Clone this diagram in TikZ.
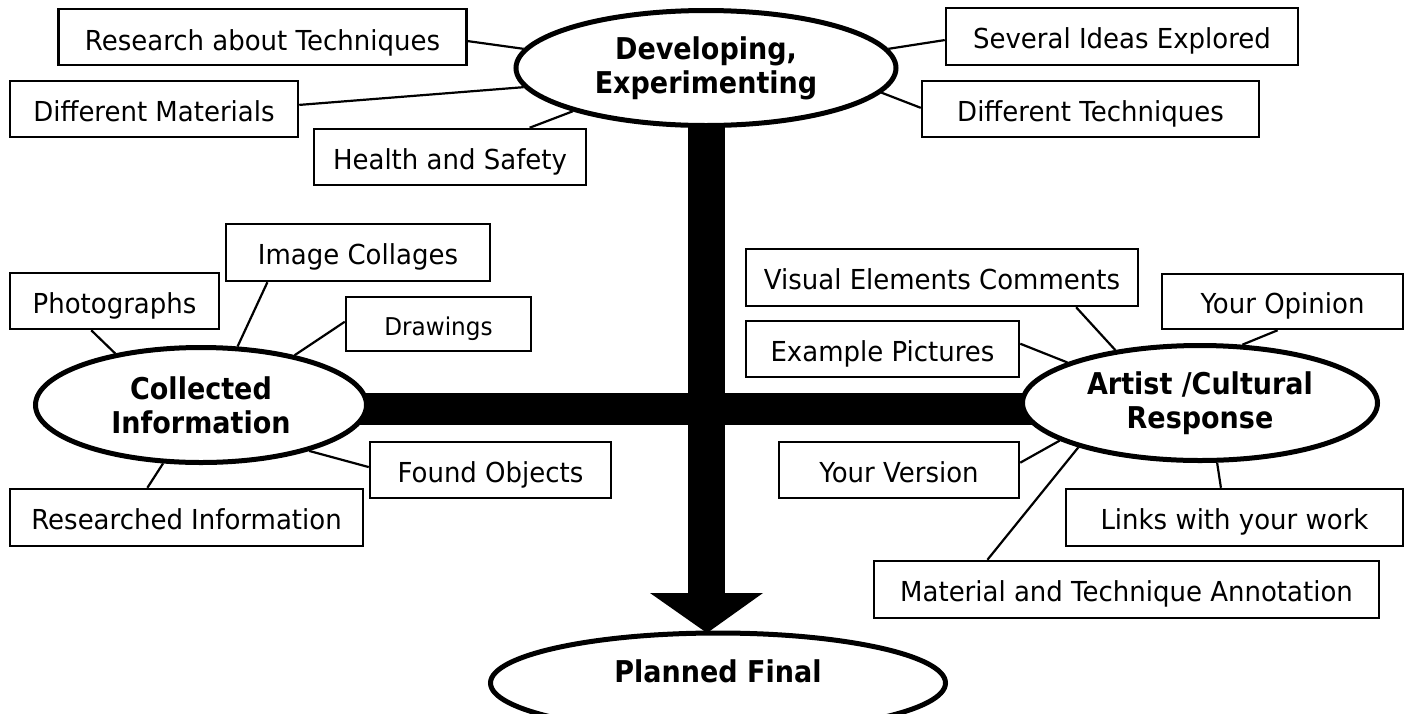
\documentclass[tikz,border=0pt]{standalone}
\usepackage{fontspec}
\setmainfont{DejaVu Sans}[FakeStretch=0.945]
\newfontfamily\ovalfont{DejaVu Sans}[FakeStretch=0.9]
\usetikzlibrary{shapes.geometric,calc}
\begin{document}
\begin{tikzpicture}[x=1pt,y=-1pt,
  box/.style={draw, line width=2.5pt, rectangle, inner sep=0pt, fill=white,
    font=\fontsize{27.5}{32}\selectfont, text height=24.5pt, text depth=0pt},
  oval/.style={draw, line width=5pt, ellipse, inner sep=0pt, fill=white,
    align=center, font=\ovalfont\fontsize{30}{34}\selectfont\bfseries},
  link/.style={line width=2.2pt}]
\useasboundingbox (0,0) rectangle (1411,713);
\clip (0,0) rectangle (1411,713);
\fill[white] (0,0) rectangle (1411,713);
% thick cross and arrow
\fill[black] (688,100) rectangle (725,593);
\fill[black] (300,393) rectangle (1100,425);
\coordinate (ahl) at (650,593);
\coordinate (ahr) at (763,593);
\coordinate (tip) at (707,633);
\fill[black] (ahl) -- (ahr) -- (tip) -- cycle;
% ellipses
\node[oval, minimum width=380pt, minimum height=115pt] (dev) at (706,68) {Developing,\\Experimenting};
\node[oval, minimum width=331pt, minimum height=115pt] (ci) at (201,405) {Collected\\Information};
\node[oval, minimum width=355pt, minimum height=115pt] (acr) at (1200,403) {Artist /Cultural\\Response};
\node[oval, minimum width=455pt, minimum height=100pt, text height=21pt, text depth=23pt] (pf) at (718,683) {Planned Final};
% boxes
\node[box, minimum width=408pt, minimum height=56pt, text height=27.5pt] (rat) at (262.5,37) {Research about Techniques};
\node[box, minimum width=288pt, minimum height=56pt] (dm) at (154,109) {Different Materials};
\node[box, minimum width=272pt, minimum height=56pt] (hs) at (450,157) {Health and Safety};
\node[box, minimum width=352pt, minimum height=57pt] (sie) at (1122,36.5) {Several Ideas Explored};
\node[box, minimum width=337pt, minimum height=56pt] (dt) at (1090.5,109) {Different Techniques};
\node[box, minimum width=264pt, minimum height=57pt] (ic) at (358,252.5) {Image Collages};
\node[box, minimum width=209pt, minimum height=56pt] (ph) at (114.5,301) {Photographs};
\node[box, minimum width=185pt, minimum height=54pt, font=\fontsize{24.5}{29}\selectfont, text height=22pt] (dr) at (438.5,324) {Drawings};
\node[box, minimum width=241pt, minimum height=56pt] (fo) at (490.5,470) {Found Objects};
\node[box, minimum width=353pt, minimum height=57pt] (ri) at (186.5,517.5) {Researched Information};
\node[box, minimum width=392pt, minimum height=57pt] (vec) at (942,277.5) {Visual Elements Comments};
\node[box, minimum width=241pt, minimum height=55pt] (yo) at (1282.5,301.5) {Your Opinion};
\node[box, minimum width=273pt, minimum height=56pt] (ep) at (882.5,349) {Example Pictures};
\node[box, minimum width=240pt, minimum height=56pt] (yv) at (899,470) {Your Version};
\node[box, minimum width=337pt, minimum height=57pt] (lw) at (1234.5,517.5) {Links with your work};
\node[box, minimum width=505pt, minimum height=57pt] (mta) at (1126.5,589.5) {Material and Technique Annotation};
% connectors
\draw[link] ($(rat.north east)!0.57!(rat.south east)$) -- (dev.174);
\draw[link] ($(dm.north east)!0.43!(dm.south east)$) -- (dev.186);
\draw[link] ($(hs.north west)!0.79!(hs.north east)$) -- (dev.198);
\draw[link] ($(sie.north west)!0.56!(sie.south west)$) -- (dev.6);
\draw[link] ($(dt.north west)!0.48!(dt.south west)$) -- (dev.352);
\draw[link] ($(ph.south west)!0.39!(ph.south east)$) -- (ci.149);
\draw[link] ($(ic.south west)!0.16!(ic.south east)$) -- (ci.58);
\draw[link] ($(dr.north west)!0.46!(dr.south west)$) -- (ci.28);
\draw[link] ($(fo.north west)!0.45!(fo.south west)$) -- (ci.337);
\draw[link] ($(ri.north west)!0.39!(ri.north east)$) -- (ci.237);
\draw[link] ($(vec.south west)!0.84!(vec.south east)$) -- (acr.148);
\draw[link] ($(yo.south west)!0.48!(yo.south east)$) -- (acr.54);
\draw[link] ($(ep.north east)!0.41!(ep.south east)$) -- (acr.163);
\draw[link] ($(yv.north east)!0.375!(yv.south east)$) -- (acr.195);
\draw[link] ($(mta.north west)!0.226!(mta.north east)$) -- (acr.200);
\draw[link] ($(lw.north west)!0.46!(lw.north east)$) -- (acr.286);
\end{tikzpicture}
\end{document}
